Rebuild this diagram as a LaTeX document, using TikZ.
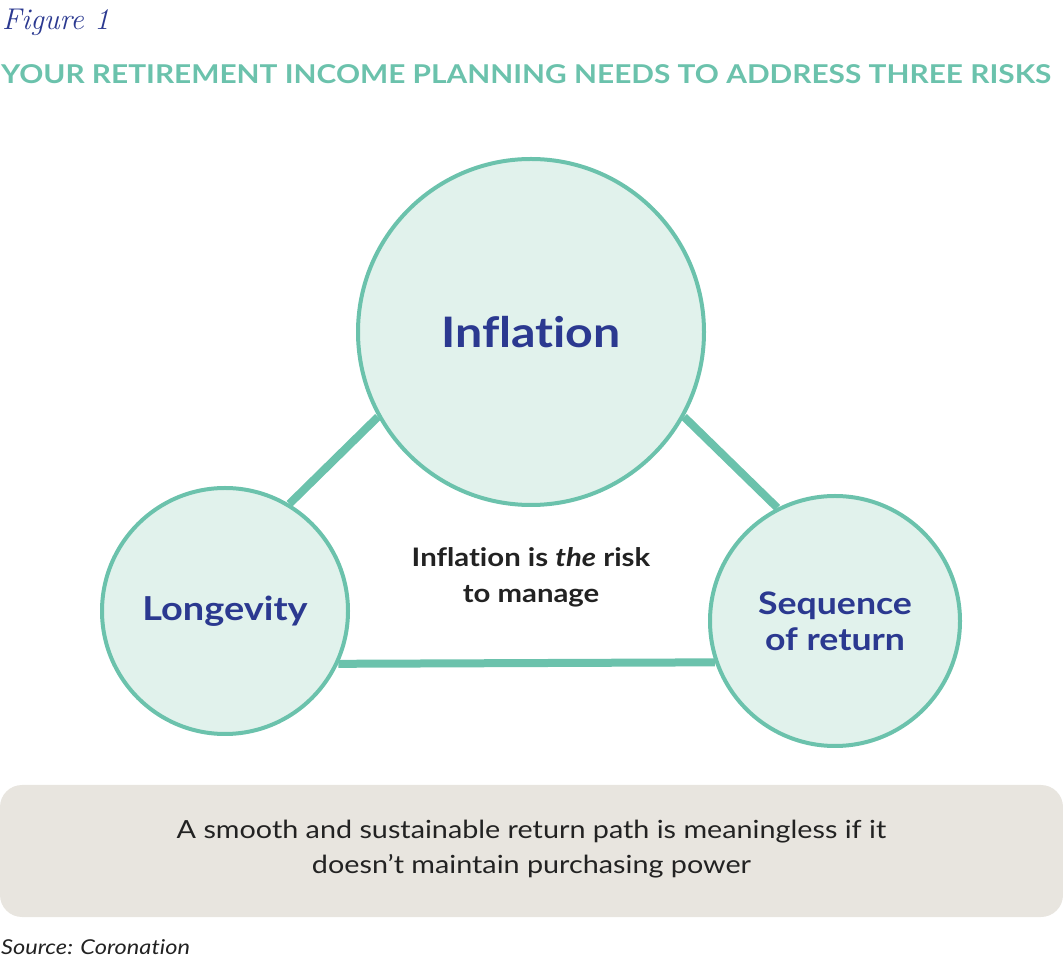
\documentclass[tikz,border=0pt]{standalone}
\usepackage{fontspec}
\setmainfont{Lato}[FakeStretch=1.15, Ligatures={NoCommon}]
\newfontfamily\figfont{Latin Modern Roman}
\usetikzlibrary{backgrounds}
\definecolor{teal}{HTML}{6BC2AC}
\definecolor{mint}{HTML}{E1F2EC}
\definecolor{navy}{HTML}{2B3990}
\definecolor{sand}{HTML}{E8E5DF}
\definecolor{ink}{HTML}{222222}
\tikzset{
  risk/.style={circle, draw=teal, fill=mint, line width=4pt, inner sep=0pt, text=navy, font=\bfseries, align=center},
  link/.style={draw=teal, line width=8pt},
}
\begin{document}
\begin{tikzpicture}[x=1pt,y=1pt]
\useasboundingbox (0,0) rectangle (1063,967);
% header
\node[anchor=base west, inner sep=0pt, text=navy, font=\figfont\itshape\fontsize{30}{32}\selectfont] (fig) at (2,937) {Figure 1};
\node[anchor=base west, inner sep=0pt, text=teal] (title) at (1,883)
  {\resizebox{1050pt}{!}{\bfseries\fontsize{28}{32}\selectfont YOUR RETIREMENT INCOME PLANNING NEEDS TO ADDRESS THREE RISKS}};
% circles
\node[risk, minimum size=346pt, font=\bfseries\fontsize{42}{48}\selectfont] (inf) at (531,635) {Inflation};
\node[risk, minimum size=246pt, font=\bfseries\fontsize{33}{36}\selectfont] (lon) at (225,356) {Longevity};
\node[risk, minimum size=250pt, font=\bfseries\fontsize{31}{36}\selectfont] (seq) at (835,346) {Sequence\\of return};
\begin{scope}[on background layer]
\draw[link] (lon.59) -- (inf.209);
\draw[link] (inf.331) -- (seq.117);
\draw[link] (lon.-25) -- (seq.199.6);
\end{scope}
% centre text
\node[align=center, text=ink, font=\bfseries\fontsize{25.5}{36}\selectfont] (mid) at (531,390) {Inflation is \textit{the} risk\\to manage};
% bottom box
\node[fill=sand, rounded corners=22pt, minimum width=1063pt, minimum height=132pt, inner sep=0pt] (box) at (531.5,116) {};
\node[align=center, text=ink, font=\fontsize{25}{35}\selectfont] (msg) at ([yshift=2pt]box.center) {A smooth and sustainable return path is meaningless if it\\doesn’t maintain purchasing power};
\node[anchor=base west, inner sep=0pt, text=ink, font=\itshape\fontsize{20.5}{24}\selectfont] (src) at (1,13) {Source: Coronation};
\end{tikzpicture}
\end{document}
